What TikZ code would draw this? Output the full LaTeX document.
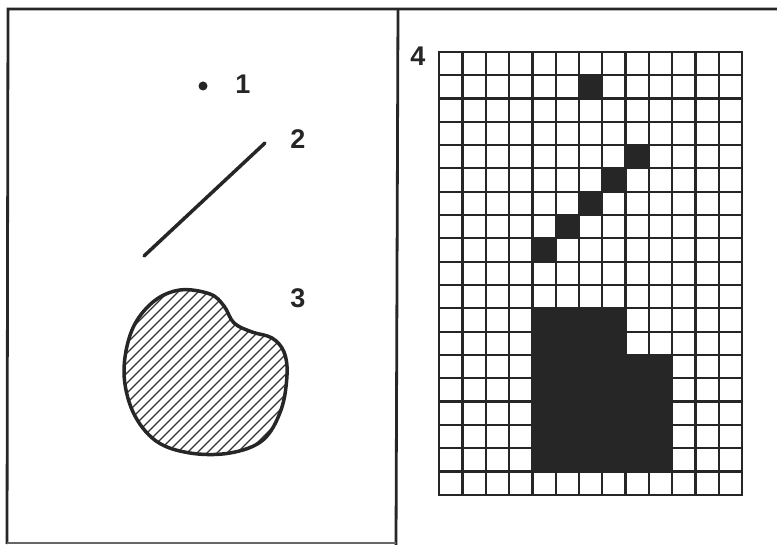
\documentclass[tikz,border=0pt]{standalone}
\usepackage{fontspec}
\setmainfont{Liberation Sans}
\begin{document}
\begin{tikzpicture}[x=1pt,y=-1pt,
  frameline/.style={line width=2.8pt,black!85},
  gridline/.style={line width=2.3pt,black!85,line cap=rect},
  numlabel/.style={font=\fontsize{27}{27}\selectfont\bfseries,inner sep=0pt,text=black!85},
  cellfill/.style={fill=black!85}]
\useasboundingbox (0,0) rectangle (777,545);
% frame
\draw[frameline] (777,9) -- (8,9) -- (7,544);
\draw[frameline] (398,9) -- (396,545);
\draw[line width=1.5pt,black!60] (7,543) -- (396,543);
% left panel
\fill[black!85] (203,86) circle (4.5);
\node[numlabel] (n1) at (243,84) {1};
\draw[line width=3.5pt,line cap=round,black!85] (144,256) -- (265,143);
\node[numlabel] (n2) at (298,139) {2};
\node[numlabel] (n3) at (298,298) {3};
\def\blob{plot[smooth cycle,tension=0.6] coordinates {(180,290) (210,294) (224,306) (234,323) (252,332) (272,338) (284,352) (287,375) (281,410) (263,440) (230,453) (190,453) (156,441) (133,412) (124,372) (132,330) (153,302)}}
\begin{scope}
\clip \blob;
\foreach \a in {-300,-290,...,420}{
  \draw[line width=1.2pt,black!80] (\a,520) -- (\a+300,220);
}
\end{scope}
\draw[line width=3.5pt,black!85] \blob;
% grid panel
\node[numlabel] (n4) at (418,56) {4};
\begin{scope}[shift={(439.3,51.7)},x=23.28pt,y=-23.33pt]
\foreach \c/\r in {6/1,8/4,7/5,6/6,5/7,4/8}{
  \fill[cellfill] (\c,\r) rectangle (\c+1,\r+1);
}
\fill[cellfill] (4,11) rectangle (8,13);
\fill[cellfill] (4,13) rectangle (10,18);
\foreach \c in {0,...,13}{ \draw[gridline] (\c,0) -- (\c,19); }
\foreach \r in {0,...,19}{ \draw[gridline] (0,\r) -- (13,\r); }
\end{scope}
\end{tikzpicture}
\end{document}
